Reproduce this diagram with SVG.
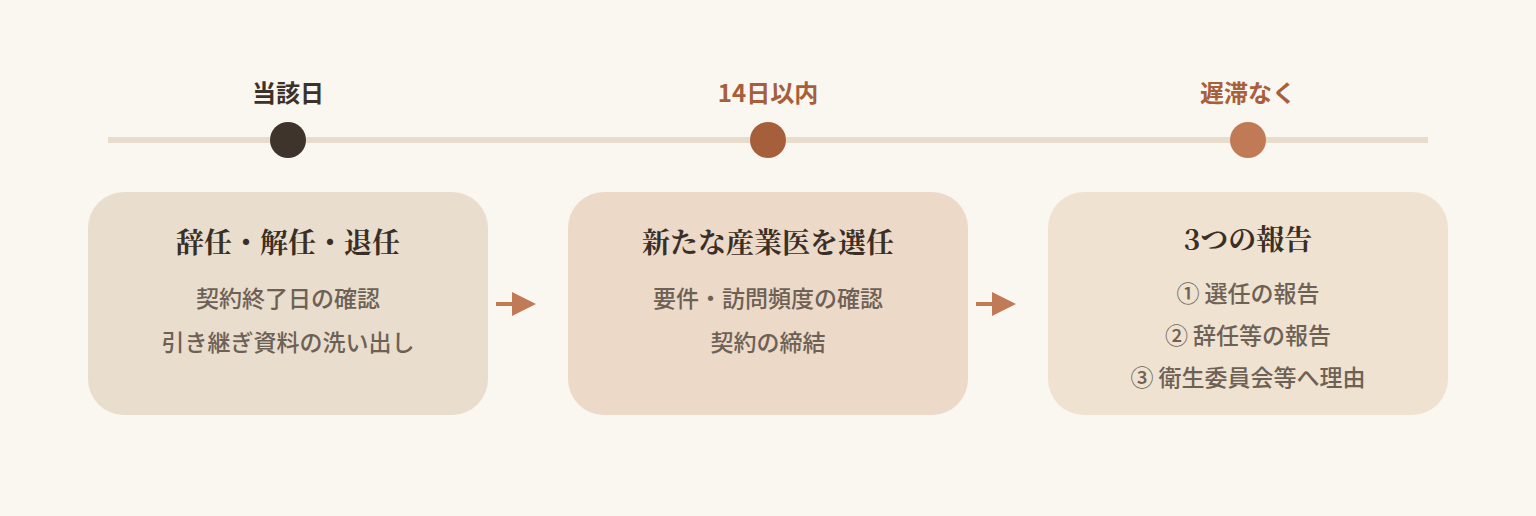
<svg xmlns="http://www.w3.org/2000/svg" width="1536" height="516" viewBox="0 0 1536 516">
<style>
.bg{fill:#faf6f0}
.lbl{font-family:"Noto Sans CJK JP","Noto Sans",sans-serif;font-size:24px;font-weight:700;text-anchor:middle}
.ttl{font-family:"Noto Serif CJK JP","Noto Sans CJK JP",serif;font-size:28px;font-weight:700;fill:#3a2f27;text-anchor:middle}
.sub{font-family:"Noto Sans CJK JP","Noto Sans",sans-serif;font-size:23px;font-weight:500;fill:#6d6156;text-anchor:middle}
.box{stroke:none}
.arr{stroke:#c17a56;stroke-width:4;fill:none}
.head{fill:#c17a56}
</style>
<rect class="bg" x="0" y="0" width="1536" height="516"/>
<g id="timeline">
<line x1="108" y1="140" x2="1428" y2="140" stroke="#e8dccd" stroke-width="6"/>
</g>
<g id="m1">
<text class="lbl" x="288" y="102" fill="#3d3229">当該日</text>
<circle cx="288" cy="140" r="18" fill="#3f342b"/>
</g>
<g id="m2">
<text class="lbl" x="768" y="102" fill="#a55f3a">14日以内</text>
<circle cx="768" cy="140" r="18" fill="#a5603b"/>
</g>
<g id="m3">
<text class="lbl" x="1248" y="102" fill="#a8603c">遅滞なく</text>
<circle cx="1248" cy="140" r="18" fill="#c07a56"/>
</g>
<g id="node1">
<rect class="box" x="88" y="192" width="400" height="223" rx="36" fill="#e9ddcd"/>
<text class="ttl" x="288" y="253">辞任・解任・退任</text>
<text class="sub" x="288" y="307">契約終了日の確認</text>
<text class="sub" x="288" y="351">引き継ぎ資料の洗い出し</text>
</g>
<g id="node2">
<rect class="box" x="568" y="192" width="400" height="223" rx="36" fill="#ecd9c8"/>
<text class="ttl" x="768" y="253">新たな産業医を選任</text>
<text class="sub" x="768" y="307">要件・訪問頻度の確認</text>
<text class="sub" x="768" y="351">契約の締結</text>
</g>
<g id="node3">
<rect class="box" x="1048" y="192" width="400" height="223" rx="36" fill="#efe2d0"/>
<text class="ttl" x="1248" y="250">3つの報告</text>
<text class="sub" x="1248" y="302">① 選任の報告</text>
<text class="sub" x="1248" y="344">② 辞任等の報告</text>
<text class="sub" x="1248" y="386">③ 衛生委員会等へ理由</text>
</g>
<g id="connectors">
<line class="arr" x1="496" y1="304" x2="514" y2="304"/>
<polygon class="head" points="512,292 536,304 512,316"/>
<line class="arr" x1="976" y1="304" x2="994" y2="304"/>
<polygon class="head" points="992,292 1016,304 992,316"/>
</g>
</svg>
